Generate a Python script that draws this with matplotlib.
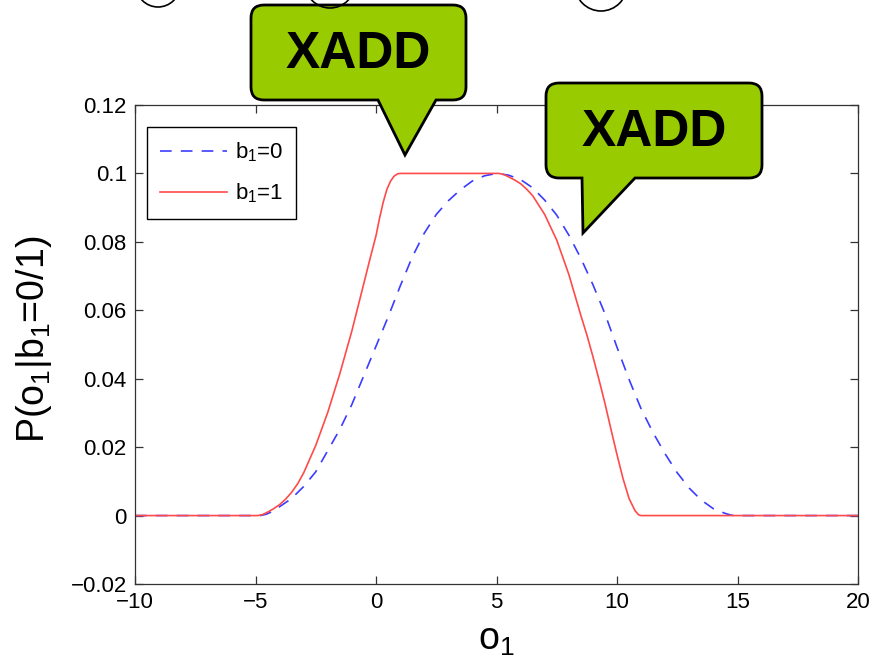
import matplotlib
matplotlib.use("Agg")
import matplotlib.pyplot as plt
from matplotlib.path import Path
from matplotlib.patches import PathPatch, Circle
from matplotlib.ticker import FuncFormatter

plt.rcParams["font.family"] = ["Liberation Sans", "DejaVu Sans"]
plt.rcParams["mathtext.default"] = "regular"
plt.rcParams["axes.unicode_minus"] = True

# Observation density for b1 = 0 (dashed blue)
o_b0 = [-10, -4.8, -4.55, -4.3, -4.0, -3.5, -3.0, -2.5, -2.0, -1.5, -1.0, -0.5,
        0.0, 0.5, 1.0, 1.5, 2.0, 2.5, 3.0, 3.5, 4.0, 4.5, 5.0, 5.5, 6.0, 6.5,
        7.0, 7.5, 8.0, 8.5, 9.0, 9.5, 10.0, 10.5, 11.0, 11.5, 12.0, 12.5, 13.0,
        13.5, 14.0, 14.5, 14.75, 15.0, 20]
p_b0 = [0, 0, 0.0004, 0.0012, 0.0026, 0.0050, 0.0085, 0.0128, 0.0190, 0.0252,
        0.0325, 0.0410, 0.0495, 0.0580, 0.0670, 0.0755, 0.0825, 0.0880, 0.0920,
        0.0952, 0.0978, 0.0993, 0.1000, 0.0995, 0.0982, 0.0958, 0.0922, 0.0878,
        0.0820, 0.0752, 0.0675, 0.0590, 0.0492, 0.0398, 0.0312, 0.0242, 0.0180,
        0.0125, 0.0080, 0.0045, 0.0020, 0.0006, 0.0001, 0, 0]

# Observation density for b1 = 1 (solid red)
o_b1 = [-10, -4.9, -4.7, -4.5, -4.25, -4.0, -3.75, -3.5, -3.25, -3.0, -2.5,
        -2.0, -1.5, -1.0, -0.5, -0.25, 0.0, 0.15, 0.3, 0.45, 0.6, 0.75, 0.9,
        1.0, 5.1, 5.3, 5.5, 5.75, 6.0, 6.25, 6.5, 7.0, 7.5, 8.0, 8.5, 8.75,
        9.0, 9.25, 9.5, 9.75, 10.0, 10.25, 10.5, 10.75, 10.9, 11.0, 20]
p_b1 = [0, 0, 0.0003, 0.0010, 0.0020, 0.0032, 0.0048, 0.0068, 0.0093, 0.0125,
        0.0205, 0.0302, 0.0415, 0.0540, 0.0680, 0.0750, 0.0818, 0.0870, 0.0916,
        0.0953, 0.0977, 0.0992, 0.0999, 0.1000, 0.1000, 0.0997, 0.0990, 0.0981,
        0.0970, 0.0954, 0.0935, 0.0880, 0.0805, 0.0705, 0.0585, 0.0528, 0.0465,
        0.0398, 0.0328, 0.0252, 0.0178, 0.0108, 0.0050, 0.0014, 0.0002, 0, 0]

series_labels = [r"b$_1$=0", r"b$_1$=1"]
x_ticks = [-10, -5, 0, 5, 10, 15, 20]
y_ticks = [-0.02, 0, 0.02, 0.04, 0.06, 0.08, 0.1, 0.12]
callout_text = "XADD"

W, H = 873, 664
fig = plt.figure(figsize=(W / 100, H / 100), dpi=100)
ax = fig.add_axes([135 / W, 1 - 584 / H, 723 / W, 479 / H])

ax.plot(o_b0, p_b0, color="#3c3cff", lw=1.2, ls=(0, (7, 5.5)), label=series_labels[0])
ax.plot(o_b1, p_b1, color="#ff4a4a", lw=1.2, label=series_labels[1])

ax.set_xlim(-10, 20)
ax.set_ylim(-0.02, 0.12)
ax.set_xticks(x_ticks)
ax.set_yticks(y_ticks)
fmt = FuncFormatter(lambda v, _: ("%g" % v).replace("-", "\u2212"))
ax.yaxis.set_major_formatter(fmt)
ax.xaxis.set_major_formatter(fmt)
ax.tick_params(direction="in", length=6, width=0.9, color="#333333",
               top=True, right=True, labelsize=16, pad=6)
for s in ax.spines.values():
    s.set_color("#333333")
    s.set_linewidth(0.9)

ax.set_xlabel(r"o$_1$", fontsize=27)
ax.set_ylabel(r"P(o$_1$|b$_1$=0/1)", fontsize=27)
ax.xaxis.set_label_coords(0.5, -0.079)
ax.yaxis.set_label_coords(-0.112, 0.51)

leg = ax.legend(loc="upper left", bbox_to_anchor=(0.0166, 0.954), borderaxespad=0,
                fontsize=16, handlelength=3.0, handletextpad=0.35, labelspacing=0.8,
                borderpad=0.6, fancybox=False, framealpha=1)
leg.get_frame().set_edgecolor("black")
leg.get_frame().set_linewidth(1.0)

# Overlay in figure pixels for the callouts and node circles
ov = fig.add_axes([0, 0, 1, 1], zorder=5)
ov.set_xlim(0, W)
ov.set_ylim(H, 0)
ov.axis("off")
ov.patch.set_alpha(0)


def callout(x0, y0, x1, y1, r, bl, br, tip):
    verts = [(x0 + r, y0), (x1 - r, y0), (x1, y0), (x1, y0 + r), (x1, y1 - r),
             (x1, y1), (x1 - r, y1), (br, y1), tip, (bl, y1), (x0 + r, y1),
             (x0, y1), (x0, y1 - r), (x0, y0 + r), (x0, y0), (x0 + r, y0),
             (x0 + r, y0)]
    codes = [Path.MOVETO, Path.LINETO, Path.CURVE3, Path.CURVE3, Path.LINETO,
             Path.CURVE3, Path.CURVE3, Path.LINETO, Path.LINETO, Path.LINETO,
             Path.LINETO, Path.CURVE3, Path.CURVE3, Path.LINETO, Path.CURVE3,
             Path.CURVE3, Path.CLOSEPOLY]
    ov.add_patch(PathPatch(Path(verts, codes), facecolor="#99cc00",
                           edgecolor="black", lw=2, joinstyle="miter"))
    ov.text((x0 + x1) / 2, (y0 + y1) / 2 + 2, callout_text, fontsize=37,
            fontweight="bold", ha="center", va="center", color="black")


callout(251, 5, 466, 100, 13, 378, 436, (405, 155))
callout(546, 83, 762, 178, 13, 582, 635, (583, 233))

for cx, cy, rad in [(158, -15, 22), (330, -17, 25), (601, -15, 26)]:
    ov.add_patch(Circle((cx, cy), rad, facecolor="none", edgecolor="black", lw=1.2))

fig.savefig("out.png", dpi=100)
